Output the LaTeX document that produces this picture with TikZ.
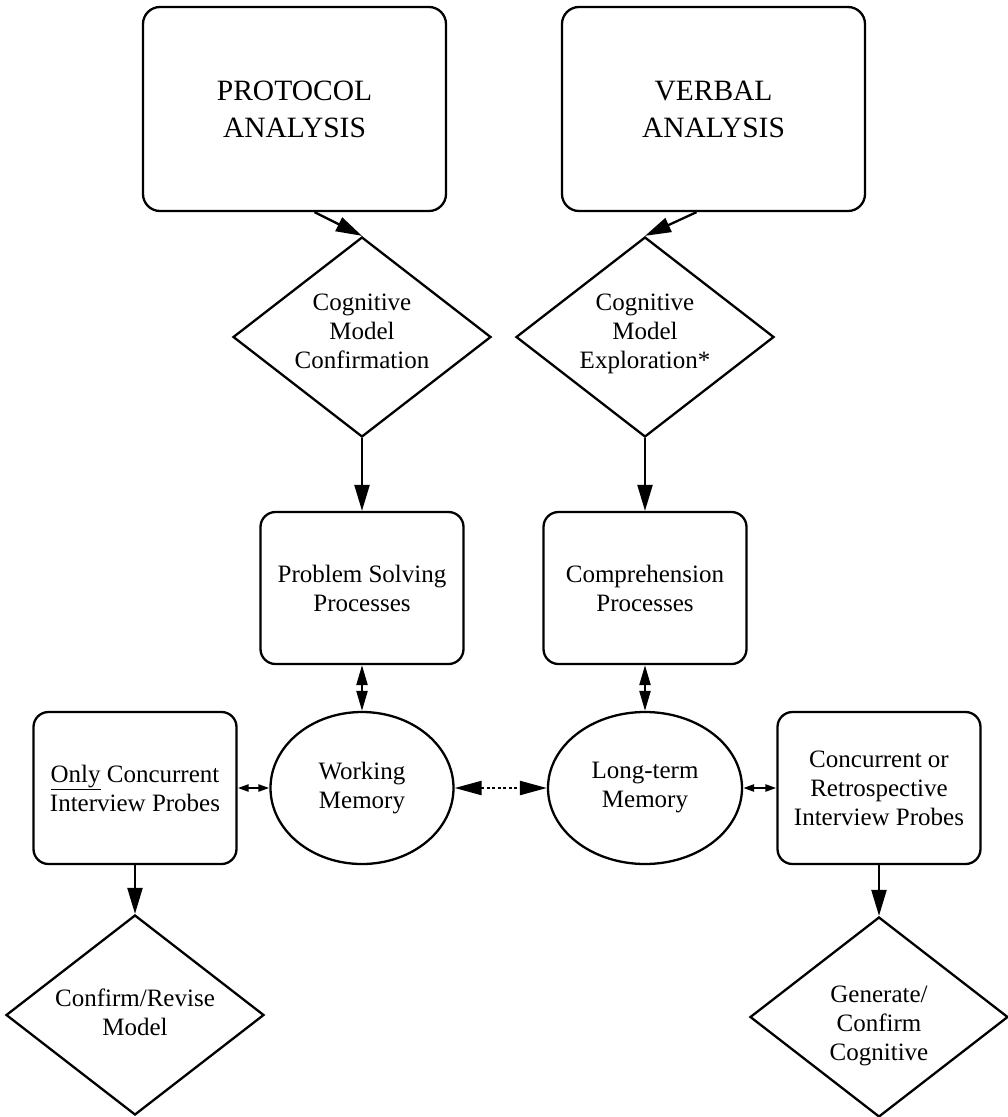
\documentclass[tikz,border=0pt]{standalone}
\usepackage{fontspec}
\setmainfont{Liberation Serif}
\usetikzlibrary{shapes.geometric,arrows.meta}

\begin{document}
\begin{tikzpicture}[x=1pt,y=-1pt,
  line width=2.3pt,
  every node/.style={inner sep=0pt, align=center, font=\fontsize{25}{29}\selectfont},
  bigbox/.style={draw, rounded corners=17pt, minimum width=303pt, minimum height=204pt,
                 font=\fontsize{29.5}{37}\selectfont},
  procbox/.style={draw, rounded corners=15pt, minimum width=203pt, minimum height=152pt},
  % the diamond keeps its size; its text sits in a centred label
  decision/.style={draw, diamond, minimum width=258pt, minimum height=200pt},
  memory/.style={draw, ellipse, minimum height=152pt},
  flow/.style={-{Triangle[length=26pt,width=15pt]}},
  link/.style={{Triangle[length=20pt,width=11pt]}-{Triangle[length=20pt,width=11pt]}},
  sidelink/.style={{Triangle[length=11pt,width=7pt]}-{Triangle[length=11pt,width=7pt]}},
  dotlink/.style={{Triangle[length=27pt,width=14pt]}-{Triangle[length=27pt,width=14pt]},
                  dash pattern=on 3pt off 2.5pt}
]
\useasboundingbox (0,0) rectangle (1008,1117);

% top-level methods
\node[bigbox] (pa) at (294.5,109) {PROTOCOL\\ANALYSIS};
\node[bigbox] (va) at (713.5,109) {VERBAL\\ANALYSIS};

% goals
\node[decision, label={[yshift=6pt]center:{Cognitive\\Model\\Confirmation}}] (cmc) at (362,337) {};
\node[decision, label={[yshift=3pt]center:{Cognitive\\Model\\Exploration*}}] (cme) at (645,337) {};

% processes
\node[procbox] (psp) at (362,588) {Problem Solving\\Processes};
\node[procbox] (cp)  at (645,588) {Comprehension\\Processes};

% memory stores
\node[memory, minimum width=183pt] (wm)  at (362,788) {Working\\Memory};
\node[memory, minimum width=194pt] (ltm) at (645,788) {Long-term\\Memory};

% probes
\node[procbox] (oc) at (135,788) {\underline{Only} Concurrent\\Interview Probes};
\node[procbox] (cr) at (879,788) {Concurrent or\\Retrospective\\Interview Probes};

% outcomes
\node[decision, label={[yshift=3pt]center:{Confirm/Revise\\Model}}] (crm) at (135,1015) {};
\node[decision, label={[yshift=-9pt]center:{Generate/\\Confirm\\Cognitive}}] (gcc) at (879,1017) {};

% connectors
\draw[flow] ([xshift=20pt]pa.south) -- (cmc.north);
\draw[flow] ([xshift=-17pt]va.south) -- (cme.north);
\draw[flow] (cmc.south) -- (psp.north);
\draw[flow] (cme.south) -- (cp.north);
\draw[link] (psp.south) -- (wm.north);
\draw[link] (cp.south) -- (ltm.north);
\draw[sidelink] (oc.east) -- (wm.west);
\draw[sidelink] (ltm.east) -- (cr.west);
\draw[dotlink] (wm.east) -- (ltm.west);
\draw[flow] (oc.south) -- (crm.north);
\draw[flow] (cr.south) -- (gcc.north);
\end{tikzpicture}
\end{document}
